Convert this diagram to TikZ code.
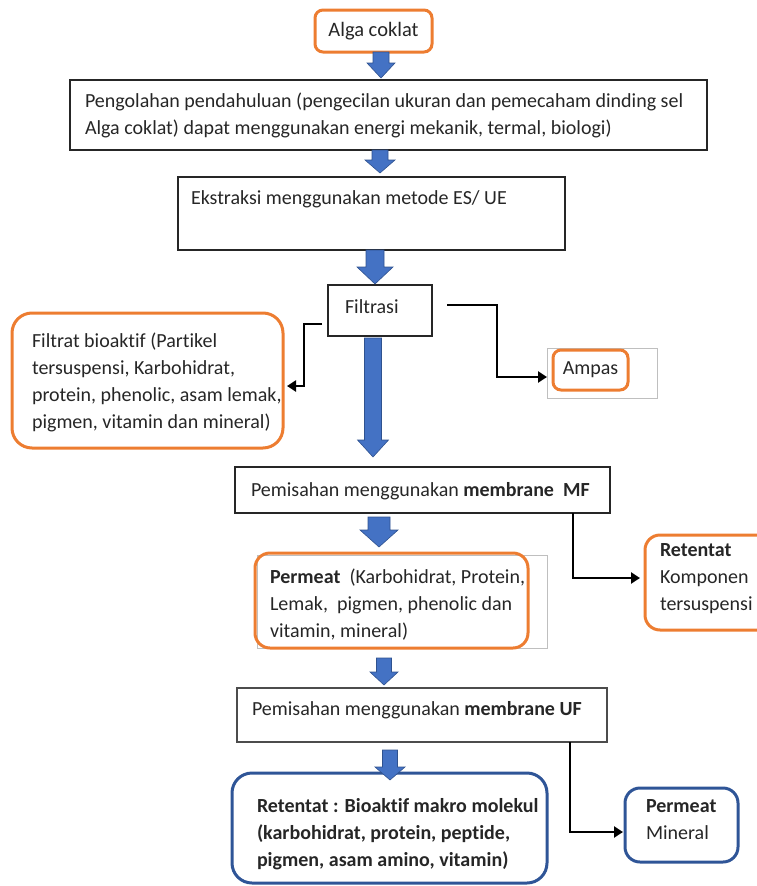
\documentclass[tikz,border=0pt]{standalone}
\usepackage{fontspec}
\setmainfont{Carlito}[Ligatures=NoCommon]
\usetikzlibrary{arrows.meta}
\definecolor{org}{HTML}{ED7D31}
\definecolor{dblue}{HTML}{2F5597}
\definecolor{ablue}{HTML}{4472C4}
\definecolor{aedge}{HTML}{2F528F}
\definecolor{txtc}{HTML}{262626}
\newcommand\blkarr[6]{% cx, ytop, yhead, ytip, shaft half, head half
  \filldraw[fill=ablue, draw=aedge, line width=0.6pt, line join=miter]
   (#1-#5,#2) -- (#1+#5,#2) -- (#1+#5,#3) -- (#1+#6,#3) -- (#1,#4)
   -- (#1-#6,#3) -- (#1-#5,#3) -- cycle;}
\begin{document}
\begin{tikzpicture}[x=1pt,y=-1pt,
  every node/.style={inner sep=0pt, outer sep=0pt},
  bx/.style={anchor=north west, minimum width=#1},
  blkbox/.style={draw=black!85, line width=2pt},
  thinbox/.style={draw=black!70, line width=1.4pt},
  graybox/.style={draw=black!25, line width=0.8pt},
  obox/.style={draw=org, line width=3pt, rounded corners=#1},
  bbox/.style={draw=dblue, line width=3pt, rounded corners=#1},
  txt/.style={anchor=north west, align=left, text=txtc,
     font=\fontsize{20}{27}\selectfont},
  conn/.style={draw=black, line width=2.8pt, line join=miter,
     -{Triangle[length=9pt,width=11pt]}}
]
\useasboundingbox (0,0) rectangle (757,886);

% ---- boxes ----
\node[obox=8, bx=117pt, minimum height=42pt] (alga) at (315,10) {};
\node[blkbox, bx=637pt, minimum height=70pt] (peng) at (70,80) {};
\node[blkbox, bx=387pt, minimum height=73pt] (ekst) at (178,177) {};
\node[blkbox, bx=104pt, minimum height=51pt] (filt) at (328,285) {};
\node[obox=20, bx=271pt, minimum height=135pt] (filtrat) at (12,313) {};
\node[graybox, bx=110pt, minimum height=50pt] (ampasg) at (547,348) {};
\node[obox=8, bx=75pt, minimum height=40pt] (ampas) at (553,350) {};
\node[blkbox, bx=375pt, minimum height=46pt] (mf) at (235,467) {};
\node[graybox, bx=290pt, minimum height=93pt] (permg) at (257,555) {};
\node[obox=15, bx=273pt, minimum height=95pt] (perm) at (255,553) {};
\node[obox=15, bx=130pt, minimum height=95pt] (ret) at (645,535) {};
\node[thinbox, bx=370pt, minimum height=54pt] (uf) at (237,688) {};
\node[bbox=20, bx=315pt, minimum height=110pt] (retb) at (232,773) {};
\node[bbox=15, bx=113pt, minimum height=74pt] (pmin) at (625,788) {};

% ---- texts ----
\node[text=txtc, font=\fontsize{20.5}{27}\selectfont] (algat) at (alga.center) {Alga coklat};
\node[txt] (pengt) at (85,107-18.9) {\strut Pengolahan pendahuluan (pengecilan ukuran dan pemecaham dinding sel\\Alga coklat) dapat menggunakan energi mekanik, termal, biologi)};
\node[txt] (ekstt) at (191,204-18.9) {\strut Ekstraksi menggunakan metode ES/ UE};
\node[txt] (filtt) at (345,313-18.9) {\strut Filtrasi};
\node[txt] (filtratt) at (32,347-18.9) {\strut Filtrat bioaktif (Partikel\\tersuspensi, Karbohidrat,\\protein, phenolic, asam lemak,\\pigmen, vitamin dan mineral)};
\node[text=txtc, font=\fontsize{20}{27}\selectfont] (ampast) at (ampas.center) {Ampas};
\node[txt] (mft) at (251,496-18.9) {\strut Pemisahan menggunakan \textbf{membrane\ \ MF}};
\node[txt] (permt) at (270,583-18.9) {\strut\textbf{Permeat} \ (Karbohidrat, Protein,\\Lemak, \ pigmen, phenolic dan\\vitamin, mineral)};
\node[txt] (rett) at (660,556-18.9) {\strut\textbf{Retentat}\\Komponen\\tersuspensi};
\node[txt] (uft) at (252,715-18.9) {\strut Pemisahan menggunakan \textbf{membrane UF}};
\node[txt, font=\fontsize{20}{27}\selectfont\bfseries] (retbt) at (257,812-18.9) {\strut Retentat : Bioaktif makro molekul\\(karbohidrat, protein, peptide,\\pigmen, asam amino, vitamin)};
\node[txt] (pmint) at (646,812-18.9) {\strut\textbf{Permeat}\\Mineral};

% ---- block arrows ----
\blkarr{381}{52}{63}{78}{8}{14}
\blkarr{380}{150}{160}{173}{8}{15}
\blkarr{375}{250}{267}{284}{9}{18}
\blkarr{373}{338}{440}{457}{8.5}{15.5}
\blkarr{379}{517}{530}{547}{11}{19}
\blkarr{384}{658}{672}{685}{7.5}{14}
\blkarr{390}{750}{767}{780}{7.5}{15}

% ---- connectors ----
\coordinate (c1) at (322,324);
\coordinate (c2) at (447,305);
\coordinate (c3) at (573,513);
\coordinate (c4) at (570,742);
\draw[conn] (c1) -- (304,324) |- ([xshift=4pt]filtrat.east |- 0,386);
\draw[conn] (c2) -- (497,305) |- (ampasg.west |- 0,377);
\draw[conn] (c3) |- ([xshift=-5pt]ret.west |- 0,578);
\draw[conn] (c4) |- ([xshift=-2pt]pmin.west |- 0,832);
\end{tikzpicture}
\end{document}
